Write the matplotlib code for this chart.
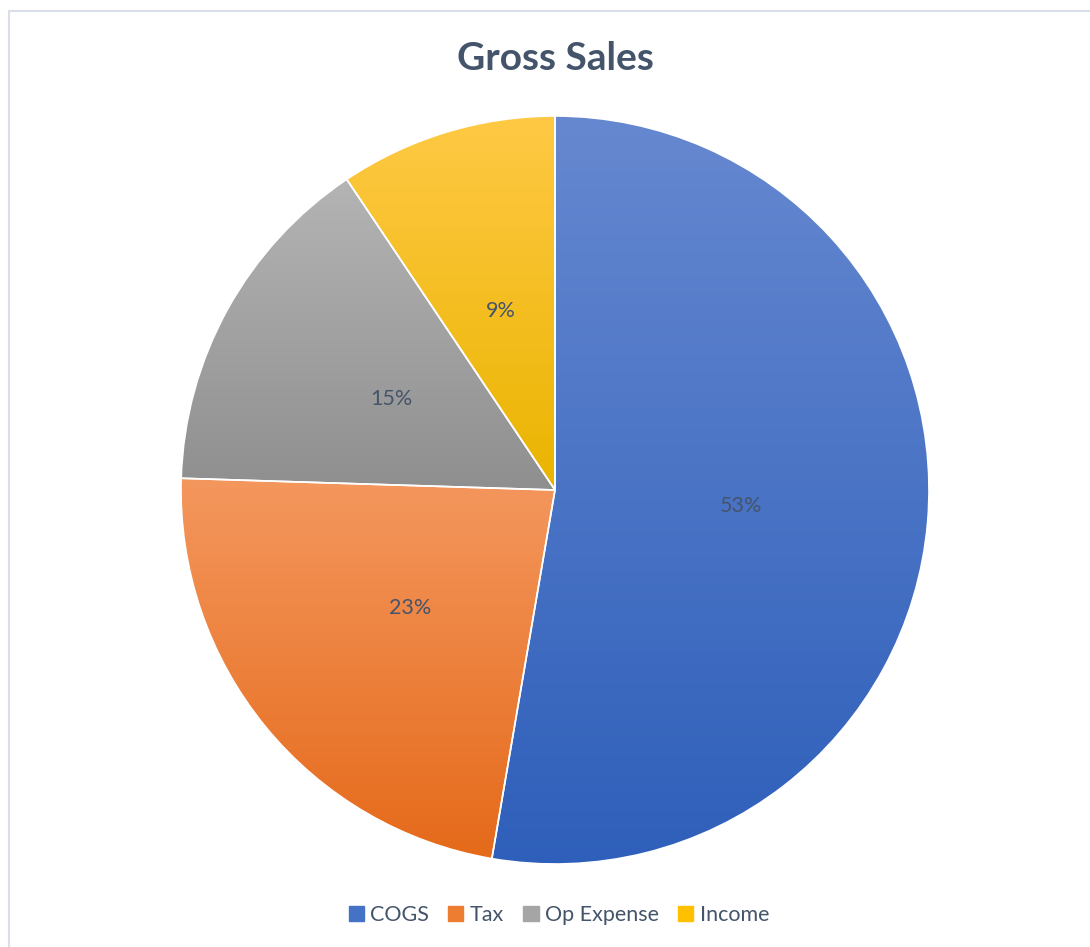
import numpy as np
import matplotlib.pyplot as plt
import matplotlib.patches as mpatches
from matplotlib.colors import LinearSegmentedColormap

# data
labels = ['COGS', 'Tax', 'Op Expense', 'Income']
values = [52.7, 22.8, 15.1, 9.4]
pct_labels = ['53%', '23%', '15%', '9%']

# top / bottom gradient colours per slice
top_colors = ['#6688d0', '#f4975e', '#b4b4b4', '#ffc945']
bot_colors = ['#2e5fba', '#e56a1a', '#8f8f8f', '#eab400']
base_colors = ['#4472c4', '#ed7d31', '#a5a5a5', '#ffc000']
text_color = '#44546a'

plt.rcParams['font.family'] = ['Lato', 'DejaVu Sans']

W, H = 1090, 947
fig = plt.figure(figsize=(W / 100, H / 100), dpi=100)

cx, cy, r = 555, 490, 374
ax = fig.add_axes([(cx - r) / W, (H - cy - r) / H, 2 * r / W, 2 * r / H])
ax.set_xlim(-1, 1)
ax.set_ylim(-1, 1)
ax.axis('off')

wedges, _ = ax.pie(values, startangle=90, counterclock=False, radius=1,
                   colors=base_colors,
                   wedgeprops=dict(edgecolor='white', linewidth=1.2))

grad = np.linspace(0, 1, 256).reshape(-1, 1)
for w, c0, c1 in zip(wedges, top_colors, bot_colors):
    verts = w.get_path().vertices
    ymin, ymax = verts[:, 1].min(), verts[:, 1].max()
    cmap = LinearSegmentedColormap.from_list('g', [c0, c1])
    im = ax.imshow(grad, cmap=cmap, aspect='auto', origin='upper',
                   extent=[-1, 1, ymin, ymax], zorder=w.get_zorder() + 0.1)
    im.set_clip_path(w)
    w.set_facecolor('none')
    w.set_zorder(w.get_zorder() + 0.2)

# percentage labels at half radius
ang0 = 90
total = sum(values)
for v, txt in zip(values, pct_labels):
    a = np.deg2rad(ang0 - v / total * 180)
    ax.text(0.5 * np.cos(a), 0.5 * np.sin(a), txt, ha='center', va='center',
            fontsize=15.5, color=text_color, zorder=10)
    ang0 -= v / total * 360

ax.set_xlim(-1, 1)
ax.set_ylim(-1, 1)

fig.text(555 / W, 1 - 58 / H, 'Gross Sales', ha='center', va='center',
         fontsize=28, fontweight='bold', color=text_color)

handles = [mpatches.Patch(color=c) for c in base_colors]
fig.legend(handles, labels, loc='center', bbox_to_anchor=(559 / W, 1 - 915 / H),
           ncol=4, frameon=False, fontsize=15.5, handlelength=0.7,
           handleheight=0.7, handletextpad=0.3, columnspacing=0.9,
           labelcolor=text_color)

# chart border
fig.patches.append(mpatches.Rectangle((8.5 / W, -0.1), 1.2, (H - 11) / H + 0.1,
                                      transform=fig.transFigure, fill=False,
                                      edgecolor='#d9dee8', linewidth=1.5))

fig.savefig('out.png', dpi=100)
